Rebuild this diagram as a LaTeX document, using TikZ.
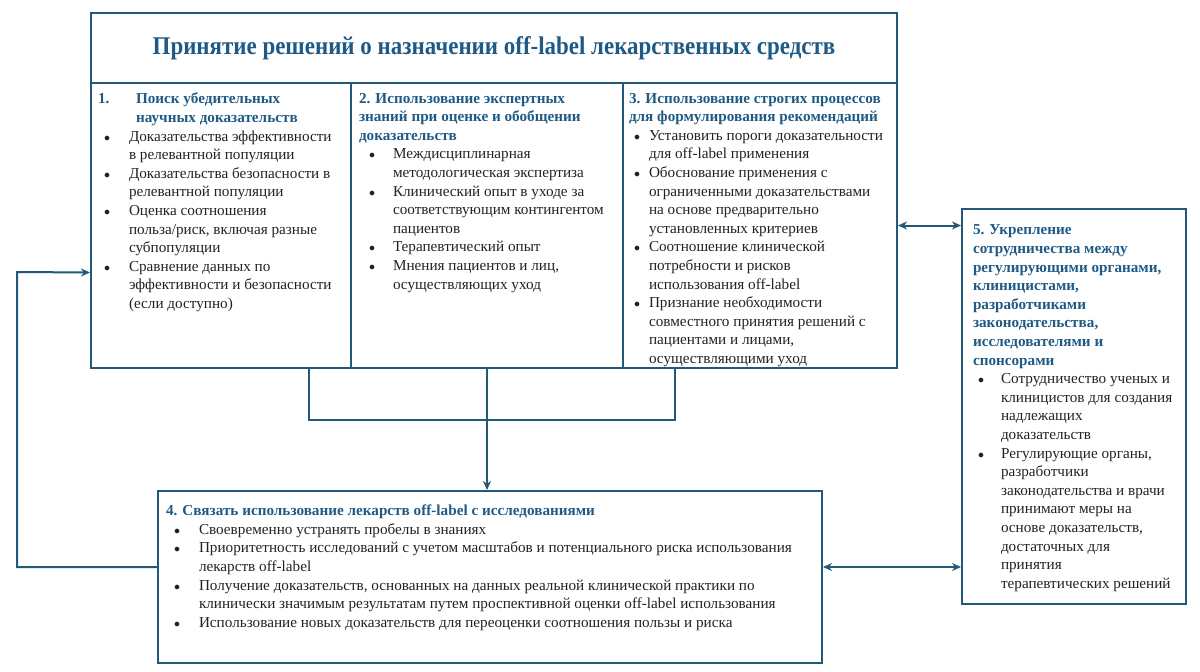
\documentclass[tikz,border=0pt]{standalone}
\usepackage{fontspec}
\setmainfont{Liberation Serif}
\usetikzlibrary{arrows.meta,positioning}

\definecolor{frame}{HTML}{22587A}
\definecolor{headblue}{HTML}{1F5A85}
\definecolor{bodytext}{HTML}{222222}

% bullet item: #1 = text indent, #2 = bullet offset
\newcommand{\itm}[2]{\par\hangindent=#1\hangafter=1\noindent\makebox[#1][l]{\hspace{#2}{\fontsize{12}{12}\selectfont$\bullet$}}}
\newcommand{\hd}[1]{{\bfseries\color{headblue}#1}}
\newcommand{\boxtext}[3]{\parbox[c][#2][t]{#1}{\fontsize{15.2}{18.6}\selectfont\color{bodytext}#3}}

\tikzset{
  panel/.style={draw=frame, line width=2pt, anchor=north west, inner sep=0pt},
  link/.style={draw=frame, line width=2pt},
  tip/.style={-{Stealth[length=9pt,width=8pt]}},
  bitip/.style={{Stealth[length=9pt,width=8pt]}-{Stealth[length=9pt,width=8pt]}}
}

\begin{document}
\begin{tikzpicture}[x=1pt,y=-1pt]
    \useasboundingbox (0,0) rectangle (1200,672);

    % Title row
    \node[panel, minimum width=806pt, minimum height=70pt] (title) at (90,12)
        {\fontsize{25.5}{30}\selectfont\bfseries\addfontfeature{FakeStretch=0.9}\color{headblue}Принятие решений о назначении off-label лекарственных средств};

    % Three columns
    \node[panel, inner xsep=7pt, inner ysep=10pt] (col1) at (90,82)
        {\boxtext{246pt}{265pt}{%
        \hangindent=38pt\hangafter=1\noindent\hd{\makebox[38pt][l]{1.}Поиск убедительных\\научных доказательств}
        \itm{31pt}{6pt}Доказательства эффективности\\в релевантной популяции
        \itm{31pt}{6pt}Доказательства безопасности в\\релевантной популяции
        \itm{31pt}{6pt}Оценка соотношения\\польза/риск, включая разные\\субпопуляции
        \itm{31pt}{6pt}Сравнение данных по\\эффективности и безопасности\\(если доступно)}};

    \node[panel, inner xsep=8pt, inner ysep=10pt] (col2) at (350,82)
        {\boxtext{256pt}{265pt}{%
        \noindent\hd{2. Использование экспертных\\знаний при оценке и обобщении\\доказательств}
        \itm{34pt}{10pt}Междисциплинарная\\методологическая экспертиза
        \itm{34pt}{10pt}Клинический опыт в уходе за\\соответствующим контингентом\\пациентов
        \itm{34pt}{10pt}Терапевтический опыт
        \itm{34pt}{10pt}Мнения пациентов и лиц,\\осуществляющих уход}};

    \node[panel, inner xsep=6pt, inner ysep=10pt] (col3) at (622,82)
        {\boxtext{262pt}{265pt}{%
        \noindent\hd{3. Использование строгих процессов\\для формулирования рекомендаций}
        \itm{20pt}{5pt}Установить пороги доказательности\\для off-label применения
        \itm{20pt}{5pt}Обоснование применения с\\ограниченными доказательствами\\на основе предварительно\\установленных критериев
        \itm{20pt}{5pt}Соотношение клинической\\потребности и рисков\\использования off-label
        \itm{20pt}{5pt}Признание необходимости\\совместного принятия решений с\\пациентами и лицами,\\осуществляющими уход}};

    % Box 4
    \node[panel, inner xsep=8pt, inner ysep=14pt] (box4) at (157,490)
        {\boxtext{648pt}{144pt}{%
        \noindent\hd{4. Связать использование лекарств off-label с исследованиями}
        \itm{33pt}{8pt}Своевременно устранять пробелы в знаниях
        \itm{33pt}{8pt}Приоритетность исследований с учетом масштабов и потенциального риска использования\\лекарств off-label
        \itm{33pt}{8pt}Получение доказательств, основанных на данных реальной клинической практики по\\клинически значимым результатам путем проспективной оценки off-label использования
        \itm{33pt}{8pt}Использование новых доказательств для переоценки соотношения пользы и риска}};

    % Box 5
    \node[panel, inner xsep=11pt, inner ysep=16pt] (box5) at (961,208)
        {\boxtext{202pt}{363pt}{%
        \noindent\hd{5. Укрепление\\сотрудничества между\\регулирующими органами,\\клиницистами,\\разработчиками\\законодательства,\\исследователями и\\спонсорами}
        \itm{28pt}{5pt}Сотрудничество ученых и\\клиницистов для создания\\надлежащих\\доказательств
        \itm{28pt}{5pt}Регулирующие органы,\\разработчики\\законодательства и врачи\\принимают меры на\\основе доказательств,\\достаточных для\\принятия\\терапевтических решений}};

    % Bracket under the columns and arrow down
    \draw[link] ([xshift=-43pt]col1.south east) -- ++(0,51) -| ([xshift=53pt]col3.south west);
    \draw[link, tip] (col2.south) -- (col2.south |- box4.north);

    % Loop back from box 4 to column 1
    \coordinate (turn) at (17,272);
    \draw[link, tip] ([yshift=10pt]box4.west) -| (turn) -- ([yshift=-47pt]col1.west);

    % Links to box 5
    \draw[link, bitip] (col3.east) -- (col3.east -| box5.west);
    \draw[link, bitip] ([yshift=10pt]box4.east) -- ([yshift=10pt]box4.east -| box5.west);
\end{tikzpicture}
\end{document}
